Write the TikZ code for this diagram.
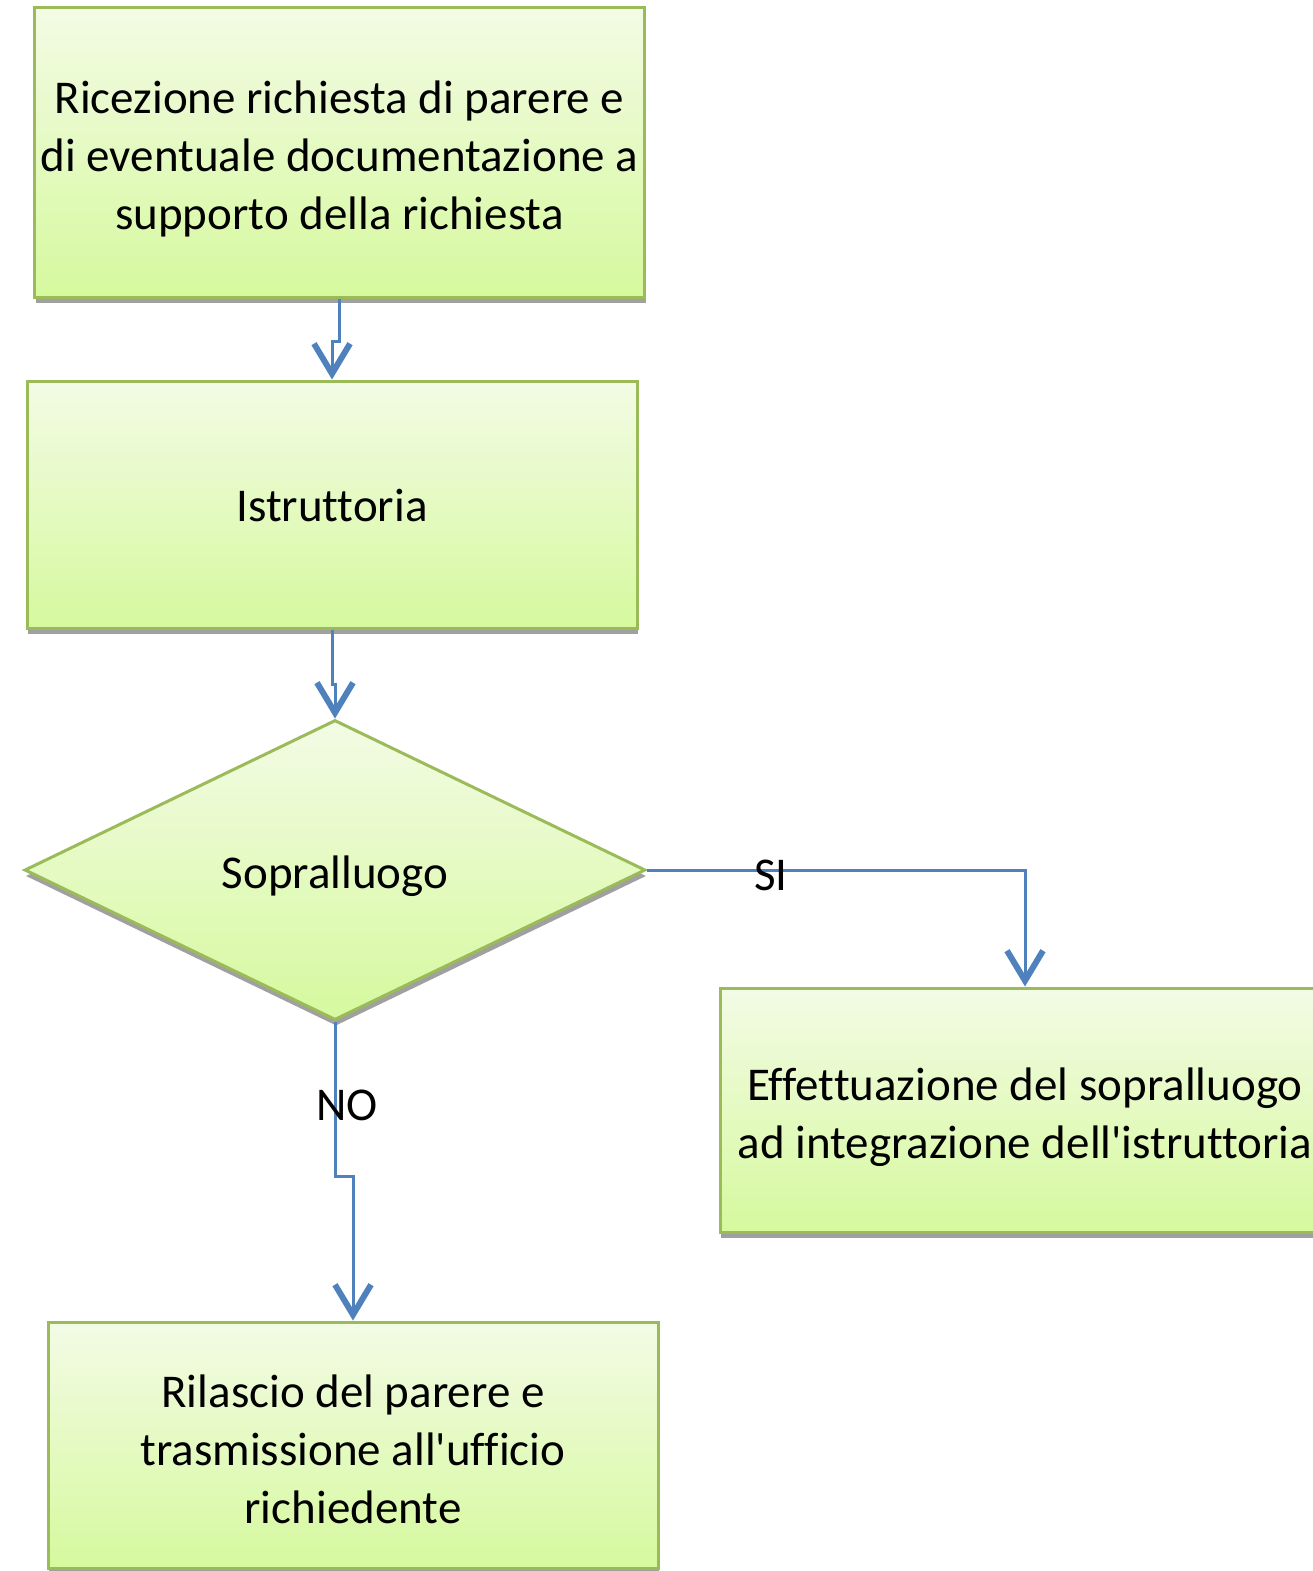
\documentclass[tikz,border=0pt]{standalone}
\usepackage{fontspec}
\setmainfont{Carlito}[Ligatures=NoCommon]
\usetikzlibrary{shapes.geometric,shadows,arrows.meta}
\definecolor{bordergreen}{HTML}{9BBB59}
\definecolor{topfill}{HTML}{F3FBE5}
\definecolor{botfill}{HTML}{D6F99E}
\definecolor{conn}{HTML}{4F81BD}
\definecolor{shadowgray}{HTML}{A0A0A0}
\newcommand\toppad[1]{\rule{0pt}{#1}}
\begin{document}
\begin{tikzpicture}[x=1pt,y=-1pt,
  shape common/.style={draw=bordergreen, line width=3pt, top color=topfill, bottom color=botfill,
    inner sep=0pt, align=center, font=\fontsize{47}{58}\selectfont,
    drop shadow={shadow xshift=1pt, shadow yshift=-6pt, fill=shadowgray, opacity=1}},
  box/.style={shape common, rectangle, minimum width=610pt, minimum height=246pt},
  decision/.style={shape common, diamond, minimum width=621pt, minimum height=300pt},
  conn/.style={draw=conn, line width=3pt, -{Straight Barb[length=30pt,width=36pt,line width=6pt]}},
  lbl/.style={font=\fontsize{47}{58}\selectfont, inner sep=0pt}
]
\useasboundingbox (0,0) rectangle (1313,1571);
\clip (0,0) rectangle (1313,1571);

\node[box, minimum height=289pt] (b1) at (339.5,152.5) {\toppad{46pt}Ricezione richiesta di parere e\\di eventuale documentazione a\\supporto della richiesta};
\node[box, minimum height=247pt] (b2) at (332,504.5) {\toppad{34pt}Istruttoria};
\node[decision] (d) at (335,870) {\toppad{46pt}Sopralluogo};
\node[box, minimum height=244pt] (b3) at (1025,1110) {\toppad{47pt}Effettuazione del sopralluogo\\ad integrazione dell\textquotesingle istruttoria};
\node[box, minimum height=246pt] (b4) at (353,1445) {\toppad{42pt}Rilascio del parere e\\trasmissione all\textquotesingle ufficio\\richiedente};

\draw[conn] (b1.south) -- ++(0,43) -| (b2.north);
\draw[conn] (b2.south) -- ++(0,55) -| (d.north);
\draw[conn] (d.east) -| (b3.north);
\draw[conn] (d.south) -- ++(0,155) -| (b4.north);

\node[lbl] (si) at (771,875) {SI};
\node[lbl] (no) at (347,1105) {NO};
\end{tikzpicture}
\end{document}
